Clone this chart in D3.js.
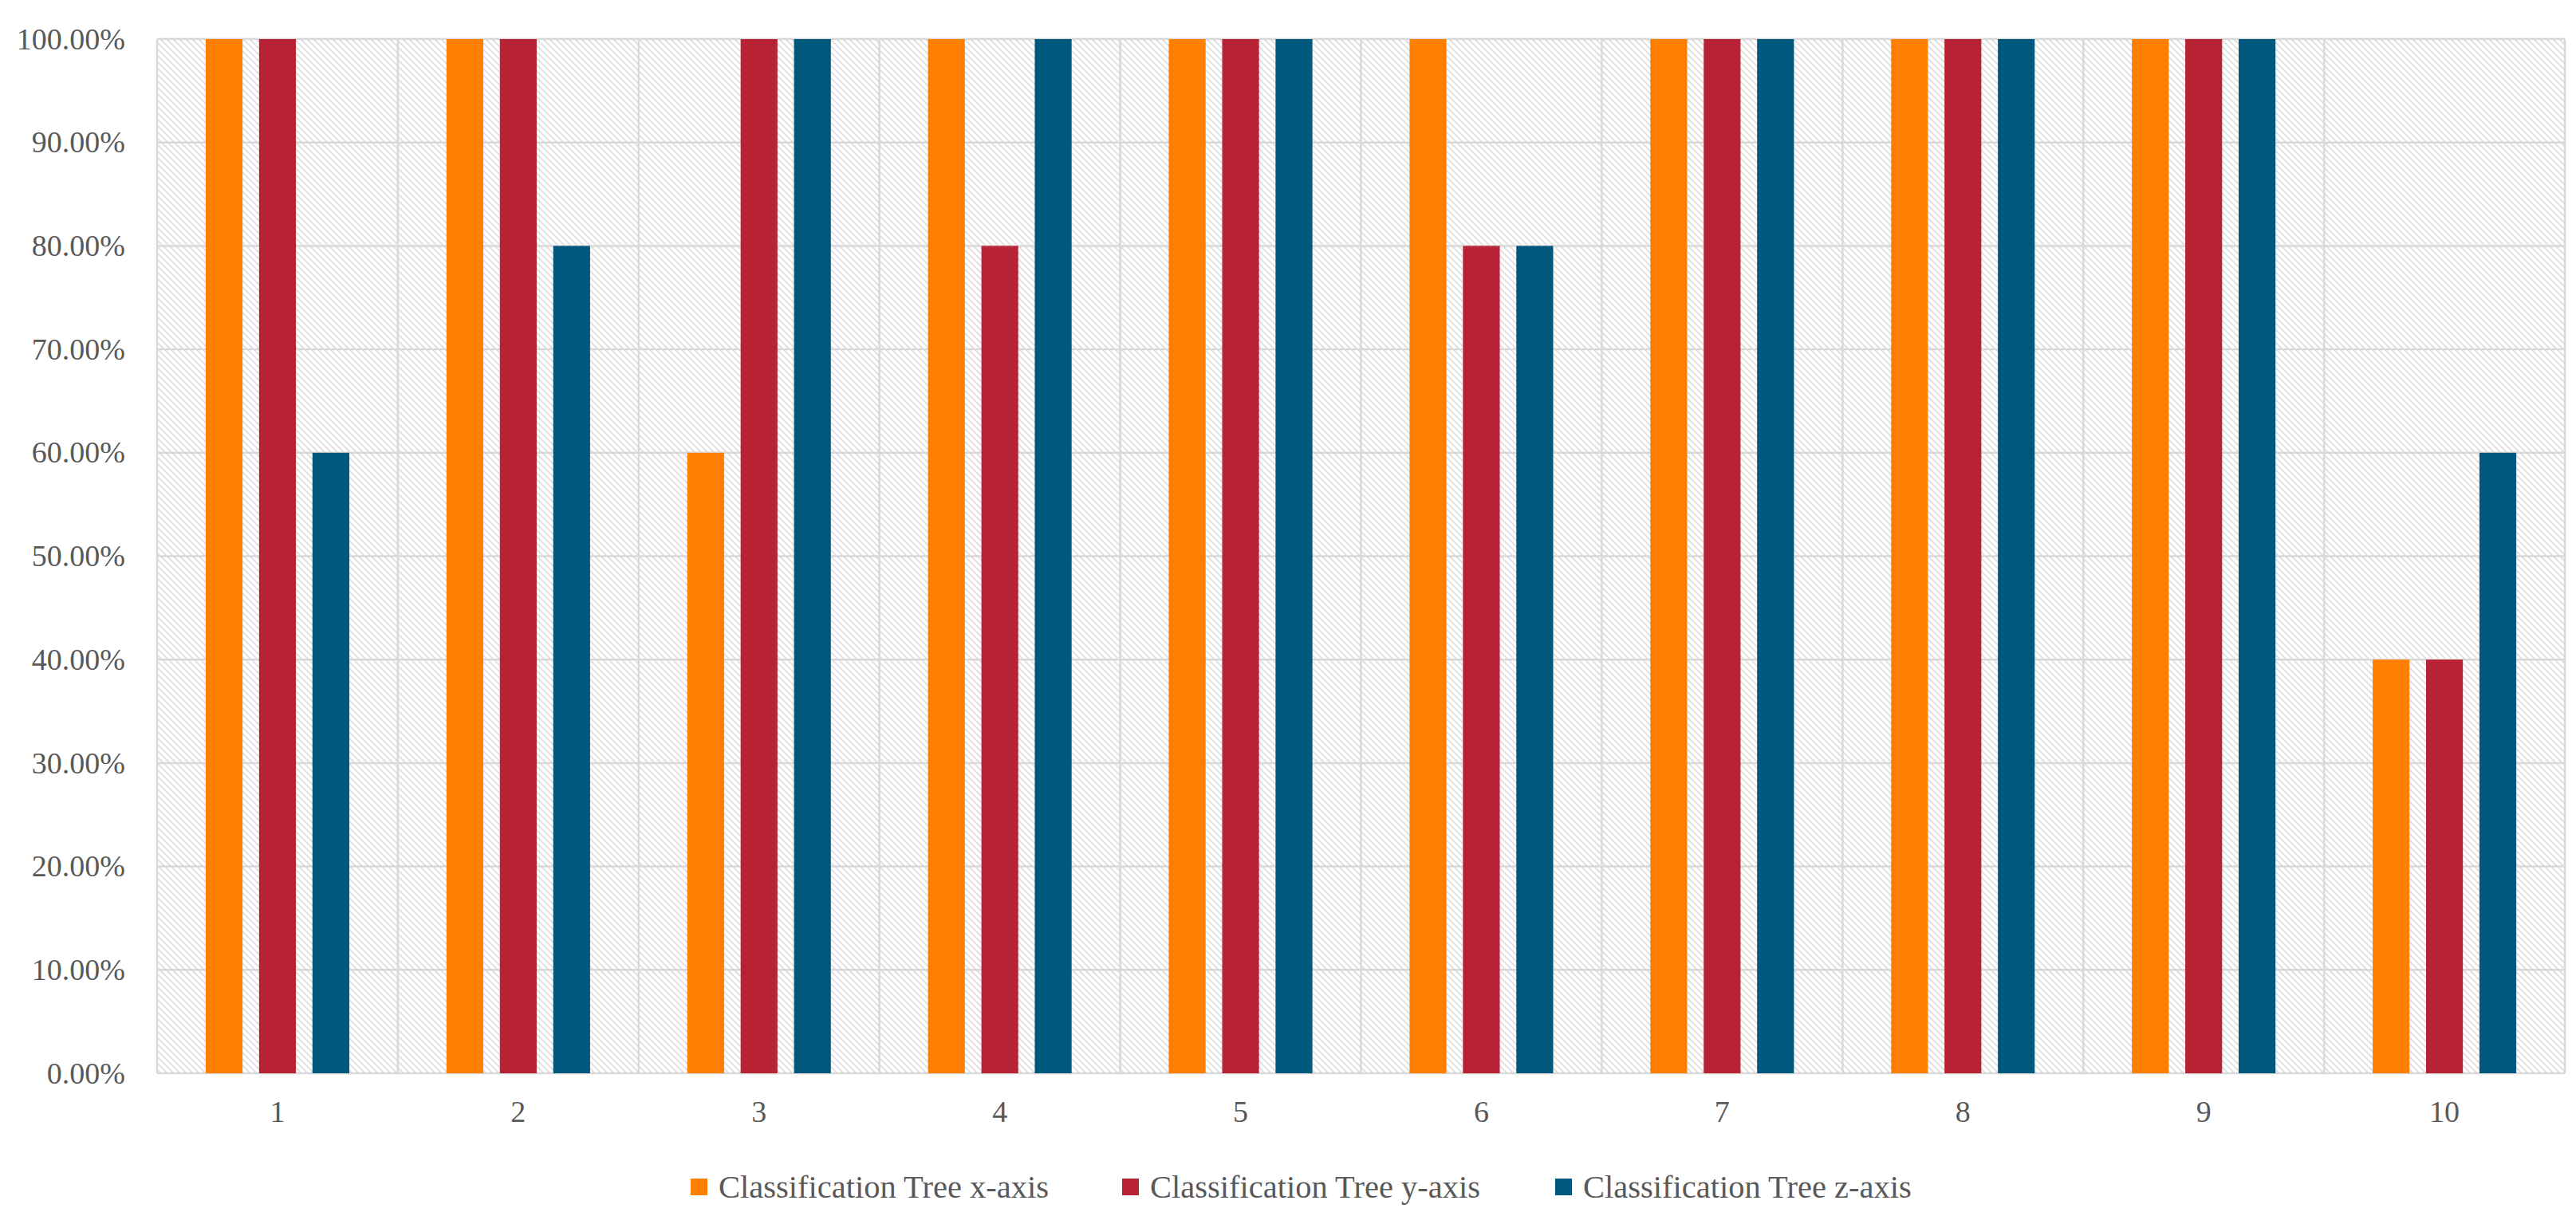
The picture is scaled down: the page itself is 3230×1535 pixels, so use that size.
<!DOCTYPE html>
<html>
<head>
<meta charset="utf-8">
<script src="https://cdn.jsdelivr.net/npm/d3@7"></script>
<style>
  body { margin: 0; background: #fff; }
  text { font-family: "Liberation Serif", serif; fill: #595959; }
</style>
</head>
<body>
<script>
// Data
var categories = ["1", "2", "3", "4", "5", "6", "7", "8", "9", "10"];
var seriesNames = ["Classification Tree x-axis", "Classification Tree y-axis", "Classification Tree z-axis"];
var xAxisValues = [1.0, 1.0, 0.6, 1.0, 1.0, 1.0, 1.0, 1.0, 1.0, 0.4];
var yAxisValues = [1.0, 1.0, 1.0, 0.8, 1.0, 0.8, 1.0, 1.0, 1.0, 0.4];
var zAxisValues = [0.6, 0.8, 1.0, 1.0, 1.0, 0.8, 1.0, 1.0, 1.0, 0.6];
var yTicks = [0, 0.1, 0.2, 0.3, 0.4, 0.5, 0.6, 0.7, 0.8, 0.9, 1.0];
var colors = ["#ff8000", "#b72335", "#00587d"];

var seriesValues = [xAxisValues, yAxisValues, zAxisValues];

var width = 3230;
var height = 1535;
var margin = { top: 49, right: 14, bottom: 189, left: 197 };

var svg = d3.select("body")
  .append("svg")
  .attr("width", width)
  .attr("height", height);

// Hatched background pattern
var defs = svg.append("defs");
var pattern = defs.append("pattern")
  .attr("id", "hatch")
  .attr("patternUnits", "userSpaceOnUse")
  .attr("width", 8)
  .attr("height", 8);
pattern.append("rect")
  .attr("width", 8)
  .attr("height", 8)
  .attr("fill", "#fff");
pattern.append("path")
  .attr("d", "M-1,-1 L9,9 M-1,7 L1,9 M7,-1 L9,1")
  .attr("stroke", "#dedede")
  .attr("stroke-width", 1.8);

// Scales
var xScale = d3.scaleBand()
  .domain(categories)
  .range([margin.left, width - margin.right]);

var inner = d3.scaleBand()
  .domain(d3.range(seriesNames.length))
  .range([0, xScale.bandwidth()])
  .paddingInner(0.31)
  .paddingOuter(0.91);

var yScale = d3.scaleLinear()
  .domain([0, 1])
  .range([height - margin.bottom, margin.top]);

// Plot background
svg.append("rect")
  .attr("x", margin.left)
  .attr("y", margin.top)
  .attr("width", width - margin.left - margin.right)
  .attr("height", height - margin.top - margin.bottom)
  .attr("fill", "url(#hatch)");

// Grid lines
svg.append("g")
  .selectAll("line")
  .data(yTicks)
  .enter()
  .append("line")
  .attr("x1", margin.left)
  .attr("x2", width - margin.right)
  .attr("y1", function(d) { return yScale(d); })
  .attr("y2", function(d) { return yScale(d); })
  .attr("stroke", "#d9d9d9")
  .attr("stroke-width", 2.5);

svg.append("g")
  .selectAll("line")
  .data(categories.concat(["end"]))
  .enter()
  .append("line")
  .attr("x1", function(d, i) { return margin.left + i * xScale.step(); })
  .attr("x2", function(d, i) { return margin.left + i * xScale.step(); })
  .attr("y1", margin.top)
  .attr("y2", height - margin.bottom)
  .attr("stroke", "#d9d9d9")
  .attr("stroke-width", 2.5);

// Bars
var groups = svg.append("g")
  .selectAll("g")
  .data(categories)
  .enter()
  .append("g")
  .attr("transform", function(d) { return "translate(" + xScale(d) + ",0)"; });

groups.selectAll("rect")
  .data(function(d, i) { return seriesValues.map(function(s, j) { return { s: j, v: s[i] }; }); })
  .enter()
  .append("rect")
  .attr("x", function(d) { return inner(d.s); })
  .attr("width", inner.bandwidth())
  .attr("y", function(d) { return yScale(d.v); })
  .attr("height", function(d) { return yScale(0) - yScale(d.v); })
  .attr("fill", function(d) { return colors[d.s]; });

// Y axis labels
var yAxis = d3.axisLeft(yScale)
  .tickValues(yTicks)
  .tickSize(0)
  .tickPadding(40)
  .tickFormat(function(d) { return (d * 100).toFixed(2) + "%"; });

svg.append("g")
  .attr("class", "y-axis")
  .attr("transform", "translate(" + margin.left + ",0)")
  .call(yAxis)
  .call(function(g) { g.select(".domain").remove(); })
  .selectAll("text")
  .style("font-size", "38px")
  .style("fill", "#595959");

// X axis labels
var xAxis = d3.axisBottom(xScale)
  .tickSize(0)
  .tickPadding(34);

svg.append("g")
  .attr("class", "x-axis")
  .attr("transform", "translate(0," + (height - margin.bottom) + ")")
  .call(xAxis)
  .call(function(g) { g.select(".domain").remove(); })
  .selectAll("text")
  .style("font-size", "38px")
  .style("fill", "#595959");

// Legend
var legendX = [866, 1407, 1950];
var legend = svg.append("g")
  .selectAll("g")
  .data(seriesNames)
  .enter()
  .append("g")
  .attr("transform", function(d, i) { return "translate(" + legendX[i] + ",1478)"; });

legend.append("rect")
  .attr("width", 21)
  .attr("height", 21)
  .attr("fill", function(d, i) { return colors[i]; });

legend.append("text")
  .attr("x", 35)
  .attr("y", 24)
  .style("font-size", "40.5px")
  .text(function(d) { return d; });
</script>
</body>
</html>
